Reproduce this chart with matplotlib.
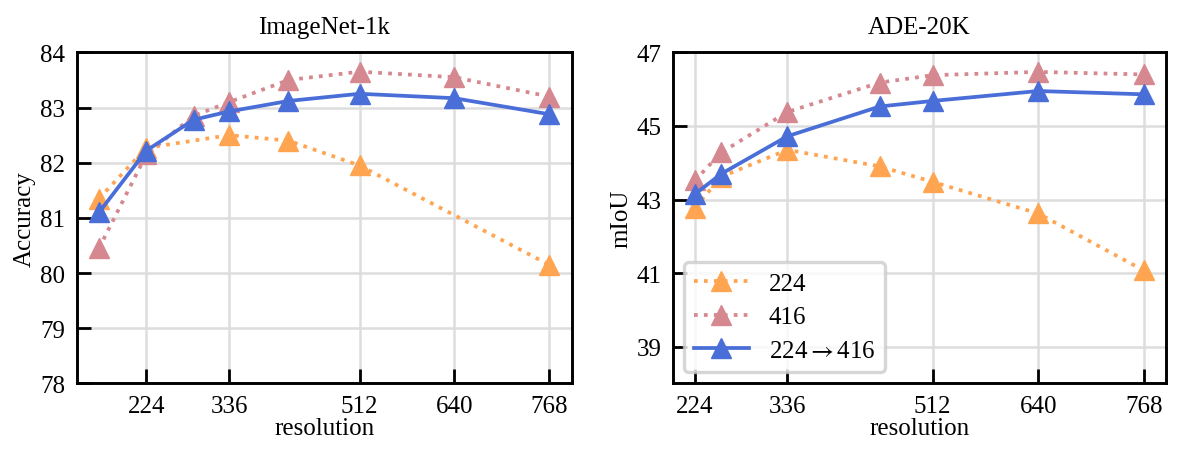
import matplotlib
matplotlib.use("Agg")
import matplotlib.pyplot as plt

# ── data ────────────────────────────────────────────────────────────────
in_x_224 = [160, 224, 336, 416, 512, 768]
in_y_224 = [81.35, 82.27, 82.5, 82.4, 81.95, 80.15]
in_x_416 = [160, 224, 288, 336, 416, 512, 640, 768]
in_y_416 = [80.45, 82.15, 82.85, 83.1, 83.5, 83.65, 83.55, 83.2]
in_x_ft = [160, 224, 288, 336, 416, 512, 640, 768]
in_y_ft = [81.1, 82.22, 82.78, 82.93, 83.12, 83.25, 83.17, 82.88]

ade_x = [224, 256, 336, 448, 512, 640, 768]
ade_y_224 = [42.78, 43.62, 44.35, 43.9, 43.48, 42.62, 41.07]
ade_y_416 = [43.52, 44.28, 45.38, 46.18, 46.38, 46.47, 46.4]
ade_y_ft = [43.15, 43.7, 44.72, 45.53, 45.68, 45.95, 45.86]

res_ticks = [224, 336, 512, 640, 768]
in_yticks = [78, 79, 80, 81, 82, 83, 84]
ade_yticks = [39, 41, 43, 45, 47]

labels = ["224", "416", "224$\\rightarrow$416"]
colors = ["#FFA552", "#D5888F", "#4A6ED8"]
styles = [":", ":", "-"]

# ── style ───────────────────────────────────────────────────────────────
plt.rcParams["font.family"] = ["Liberation Serif", "DejaVu Serif"]
plt.rcParams["mathtext.fontset"] = "stix"
FS = 18

fig = plt.figure(figsize=(11.77, 4.56), dpi=100)
ax1 = fig.add_axes([0.065, 0.157, 0.4206, 0.7259])
ax2 = fig.add_axes([0.5714, 0.157, 0.4195, 0.7259])


def draw(ax, series, yticks, ylim, title, ylabel):
    for (xs, ys), lab, col, ls in zip(series, labels, colors, styles):
        ax.plot(xs, ys, ls=ls, color=col, lw=2.7, marker="^", ms=14,
                label=lab)
    ax.set_xticks(res_ticks)
    ax.set_yticks(yticks)
    ax.set_ylim(*ylim)
    ax.grid(True, color="#dddddd", lw=1.8)
    ax.set_axisbelow(True)
    ax.tick_params(direction="in", length=10, width=2, pad=8,
                   labelsize=FS)
    for sp in ax.spines.values():
        sp.set_linewidth(2.1)
    ax.set_title(title, fontsize=FS, pad=14)
    ax.set_xlabel("resolution", fontsize=FS, labelpad=0)
    ax.set_ylabel(ylabel, fontsize=FS, labelpad=3)


draw(ax1,
     [(in_x_224, in_y_224), (in_x_416, in_y_416), (in_x_ft, in_y_ft)],
     in_yticks, (78, 84), "ImageNet-1k", "Accuracy")
draw(ax2,
     [(ade_x, ade_y_224), (ade_x, ade_y_416), (ade_x, ade_y_ft)],
     ade_yticks, (38, 47), "ADE-20K", "mIoU")

leg = ax2.legend(loc="lower left", fontsize=FS, handlelength=2.2,
                 handletextpad=0.8, labelspacing=0.45, borderaxespad=0.45,
                 fancybox=True)
leg.get_frame().set_edgecolor("#cccccc")
leg.get_frame().set_linewidth(2.4)

fig.savefig("out.png", dpi=100)
